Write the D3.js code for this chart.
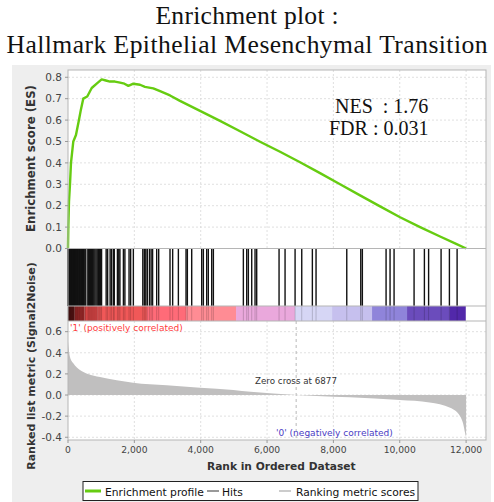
<!DOCTYPE html>
<html><head><meta charset="utf-8">
<script src="https://cdn.jsdelivr.net/npm/d3@7"></script>
<style>body{margin:0;background:#fff}svg{display:block}</style>
</head><body>
<script>
// ---------------- data ----------------
const titleLines = ["Enrichment plot :", "Hallmark Epithelial Mesenchymal Transition"];
const statLines = ["NES  : 1.76", "FDR : 0.031"];
const xTicks = [0, 2000, 4000, 6000, 8000, 10000, 12000];
const esTicks = [0, 0.1, 0.2, 0.3, 0.4, 0.5, 0.6, 0.7, 0.8];
const metricTicks = [-0.4, -0.2, 0, 0.2, 0.4, 0.6];
const esRank  = [0, 10, 30, 60, 90, 160, 240, 330, 390, 460, 580, 715, 865, 1015, 1140, 1265, 1415, 1570, 1700, 1820, 1970, 2170, 2320, 2570, 2775, 3075, 3375, 3980, 4583, 5186, 5789, 6392, 6995, 7598, 8201, 8804, 9407, 10010, 10613, 11216, 11700, 12000];
const esValue = [0, 0.10, 0.22, 0.30, 0.40, 0.50, 0.53, 0.60, 0.65, 0.70, 0.71, 0.75, 0.77, 0.79, 0.785, 0.78, 0.78, 0.775, 0.77, 0.76, 0.77, 0.765, 0.755, 0.748, 0.735, 0.715, 0.69, 0.643, 0.596, 0.548, 0.499, 0.452, 0.403, 0.352, 0.300, 0.248, 0.197, 0.146, 0.100, 0.056, 0.022, 0.0];
const hitRanks = [3, 11, 19, 28, 40, 52, 63, 77, 90, 104, 119, 133, 147, 162, 178, 195, 212, 229, 247, 266, 285, 304, 325, 347, 369, 391, 414, 438, 462, 487, 512, 537,
  598, 625, 653, 684, 714, 745, 777, 810, 845, 880, 915, 950, 985, 1012,
  1150, 1195, 1270, 1315, 1370, 1395, 1490, 1530, 1565, 1670, 1715, 1840, 1888, 1970, 2255, 2300, 2345, 2390, 2455, 2505, 2550, 2673, 2734, 3075, 3155, 3327, 3558, 3598, 3729, 4030, 4080, 4180, 4230, 4332, 4382, 5286, 5387, 5437, 5538, 5638, 5688, 6362, 6543, 6845, 7046, 7366, 7477, 8403, 8825, 8873, 9588, 9708, 9829, 10432, 10743, 10870, 11246, 11497, 11729];
const metricRank  = [0, 20, 60, 160, 360, 600, 965, 1470, 1960, 2975, 3980, 4985, 5500, 6877, 7500, 8500, 10000, 10900, 11520, 11820, 11910, 11970, 12000];
const metricValue = [0.51, 0.44, 0.36, 0.30, 0.237, 0.20, 0.17, 0.14, 0.117, 0.092, 0.07, 0.047, 0.03, 0.0, -0.01, -0.022, -0.047, -0.07, -0.12, -0.2, -0.27, -0.36, -0.40];
const zeroCross = 6877;
const barStart = [0, 200, 500, 900, 2380, 3560, 5065, 6840, 7960, 9165, 10220, 11515];
const barEnd   = [200, 500, 900, 2380, 3560, 5065, 6840, 7960, 9165, 10220, 11515, 11990];
const barColor = ["#6a1a1a", "#b02e2e", "#e04848", "#f05858", "#ff6b78", "#ff8c94", "#eaa8dc", "#d6d6f5", "#c6c0ee", "#8f84da", "#6b4cbc", "#5228aa"];
const legendItems = ["Enrichment profile", "Hits", "Ranking metric scores"];

// ---------------- layout ----------------
const W = 494, H = 502;
const L = 68, R = 486;
const esTop = 70, esBot = 248.5, hitsBot = 306, barBot = 321, mBot = 440;
const SANS = "'DejaVu Sans', sans-serif";
const SERIF = "'Liberation Serif', 'Times New Roman', serif";

const svg = d3.select("body").append("svg").attr("width", W).attr("height", H);
function fit(t, w) { const fs = +t.attr("font-size"); const len = t.node().getComputedTextLength(); t.attr("font-size", fs * w / len); return t; }

// title
const titleW = [183, 481], titleY = [24, 53];
titleLines.forEach((s, i) => {
  const t = svg.append("text").attr("x", 247).attr("y", titleY[i]).attr("text-anchor", "middle")
    .attr("font-family", SERIF).attr("font-size", 25.6).attr("fill", "#111").text(s);
  t.attr("textLength", titleW[i]).attr("lengthAdjust", "spacing");
});

// gray panel
svg.append("rect").attr("x", 12).attr("y", 65).attr("width", 479).attr("height", 437).attr("fill", "#eeeeee");
svg.append("rect").attr("x", L).attr("y", esTop).attr("width", R - L).attr("height", mBot - esTop).attr("fill", "#fff");

const x = d3.scaleLinear().domain([0, 12600]).range([L, R]);
const yES = d3.scaleLinear().domain([0, 0.834]).range([esBot, esTop]);
const yM = d3.scaleLinear().domain([-0.426, 0.701]).range([mBot, barBot]);

const grid = svg.append("g").attr("stroke", "#d8d8d8").attr("stroke-dasharray", "2,2").attr("stroke-width", 0.8);
xTicks.filter(d => d > 0).forEach(d => {
  grid.append("line").attr("x1", x(d)).attr("x2", x(d)).attr("y1", esTop).attr("y2", esBot);
  grid.append("line").attr("x1", x(d)).attr("x2", x(d)).attr("y1", barBot).attr("y2", mBot);
});
esTicks.filter(d => d > 0).forEach(d => grid.append("line").attr("x1", L).attr("x2", R).attr("y1", yES(d)).attr("y2", yES(d)));
metricTicks.forEach(d => grid.append("line").attr("x1", L).attr("x2", R).attr("y1", yM(d)).attr("y2", yM(d)));

// color bar
svg.append("g").selectAll("rect").data(barStart).join("rect")
  .attr("x", (d) => x(d)).attr("width", (d, i) => x(barEnd[i]) - x(d))
  .attr("y", hitsBot).attr("height", barBot - hitsBot).attr("fill", (d, i) => barColor[i]);

// hits
svg.append("g").selectAll("line").data(hitRanks).join("line")
  .attr("x1", d => x(d)).attr("x2", d => x(d)).attr("y1", esBot).attr("y2", hitsBot)
  .attr("stroke", "#111").attr("stroke-width", 1.4);
svg.append("g").selectAll("line").data(hitRanks).join("line")
  .attr("x1", d => x(d)).attr("x2", d => x(d)).attr("y1", hitsBot).attr("y2", barBot)
  .attr("stroke", "#000").attr("stroke-opacity", 0.18).attr("stroke-width", 1);

// metric area
const mData = metricRank.map((r, i) => [r, metricValue[i]]);
svg.append("path").datum(mData)
  .attr("d", d3.area().x(d => x(d[0])).y0(yM(0)).y1(d => yM(d[1])).curve(d3.curveMonotoneX))
  .attr("fill", "#c0bfbf");

// zero cross line
svg.append("line").attr("x1", x(zeroCross)).attr("x2", x(zeroCross)).attr("y1", barBot).attr("y2", mBot)
  .attr("stroke", "#b8b8b8").attr("stroke-dasharray", "3,3");

// ES curve
const esData = esRank.map((r, i) => [r, esValue[i]]);
svg.append("path").datum(esData)
  .attr("d", d3.line().x(d => x(d[0])).y(d => yES(d[1])))
  .attr("fill", "none").attr("stroke", "#66cc11").attr("stroke-width", 2.4).attr("stroke-linejoin", "round");

// frames
const fr = svg.append("g").attr("fill", "none").attr("stroke", "#b5b5b5");
fr.append("rect").attr("x", L).attr("y", esTop).attr("width", R - L).attr("height", mBot - esTop);
[esBot, hitsBot, barBot].forEach(yy => fr.append("line").attr("x1", L).attr("x2", R).attr("y1", yy).attr("y2", yy));

// axes
const axC = "#444";
const gy = svg.append("g").attr("font-family", SANS).attr("font-size", 10.5).attr("fill", axC);
esTicks.forEach(d => {
  gy.append("text").attr("x", 62).attr("y", yES(d)).attr("dy", "0.36em").attr("text-anchor", "end").text(d3.format(".1f")(d));
  svg.append("line").attr("x1", L - 3).attr("x2", L).attr("y1", yES(d)).attr("y2", yES(d)).attr("stroke", "#999");
});
metricTicks.forEach(d => {
  gy.append("text").attr("x", 62).attr("y", yM(d)).attr("dy", "0.36em").attr("text-anchor", "end").text(d3.format(".1f")(d).replace("\u2212", "-"));
  svg.append("line").attr("x1", L - 3).attr("x2", L).attr("y1", yM(d)).attr("y2", yM(d)).attr("stroke", "#999");
});
const gx = svg.append("g").attr("font-family", SANS).attr("font-size", 9.2).attr("fill", axC);
xTicks.forEach(d => {
  gx.append("text").attr("x", x(d)).attr("y", 453).attr("text-anchor", "middle").text(d3.format(",")(d));
  svg.append("line").attr("x1", x(d)).attr("x2", x(d)).attr("y1", mBot).attr("y2", mBot + 3).attr("stroke", "#999");
});

// axis titles
const t1 = svg.append("text").attr("transform", "translate(35,158.5) rotate(-90)").attr("text-anchor", "middle")
  .attr("font-family", SANS).attr("font-weight", "bold").attr("font-size", 12).attr("fill", "#333").text("Enrichment score (ES)");
fit(t1, 147);
const t2 = svg.append("text").attr("transform", "translate(35,366) rotate(-90)").attr("text-anchor", "middle")
  .attr("font-family", SANS).attr("font-weight", "bold").attr("font-size", 12).attr("fill", "#333").text("Ranked list metric (Signal2Noise)");
fit(t2, 208);
const t3 = svg.append("text").attr("x", 281.3).attr("y", 470).attr("text-anchor", "middle")
  .attr("font-family", SANS).attr("font-weight", "bold").attr("font-size", 12).attr("fill", "#333").text("Rank in Ordered Dataset");
fit(t3, 149);

// annotations
const a1 = svg.append("text").attr("x", 70).attr("y", 330.5).attr("font-family", SANS).attr("font-size", 9).attr("fill", "#ff3c3c").text("'1' (positively correlated)");
fit(a1, 113);
const a2 = svg.append("text").attr("x", 276).attr("y", 435.5).attr("font-family", SANS).attr("font-size", 9).attr("fill", "#4a3cc4").text("'0' (negatively correlated)");
fit(a2, 117);
const a3 = svg.append("text").attr("x", 255).attr("y", 384).attr("font-family", SANS).attr("font-size", 8).attr("fill", "#333").text("Zero cross at " + zeroCross);
fit(a3, 82);

// NES / FDR
const statX = [335, 329], statY = [113, 135];
statLines.forEach((s, i) => {
  svg.append("text").attr("x", statX[i]).attr("y", statY[i]).attr("font-family", SERIF).attr("font-size", 20)
    .attr("fill", "#111").style("white-space", "pre").text(s);
});

// legend
svg.append("rect").attr("x", 83).attr("y", 481.5).attr("width", 335).attr("height", 19).attr("fill", "#fff").attr("stroke", "#222");
const legLine = [[85, 101, "#66cc11", 3], [207, 219, "#555", 1.2], [279, 291, "#aaa", 1.2]];
const legX = [105, 222, 296];
let legFS = 12;
legendItems.forEach((s, i) => {
  svg.append("line").attr("x1", legLine[i][0]).attr("x2", legLine[i][1]).attr("y1", 491).attr("y2", 491)
    .attr("stroke", legLine[i][2]).attr("stroke-width", legLine[i][3]);
  const t = svg.append("text").attr("x", legX[i]).attr("y", 495.5).attr("font-family", SANS).attr("font-size", legFS).attr("fill", "#111").text(s);
  if (i === 0) { fit(t, 99); legFS = +t.attr("font-size"); }
});
</script>
</body></html>
